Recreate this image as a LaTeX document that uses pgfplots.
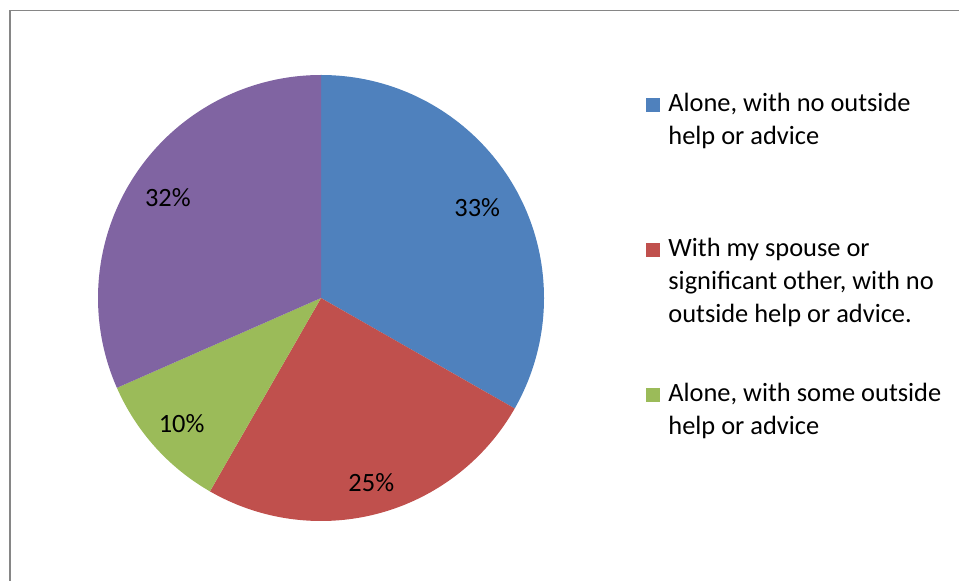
\documentclass[border=0pt]{standalone}
\usepackage{pgfplots}
\usepackage{pgfplotstable}
\pgfplotsset{compat=1.18}
\usepackage{fontspec}
\setmainfont{Carlito}

\definecolor{piecolor0}{RGB}{79,129,189}
\definecolor{piecolor1}{RGB}{192,80,77}
\definecolor{piecolor2}{RGB}{155,187,89}
\definecolor{piecolor3}{RGB}{128,100,162}
\definecolor{framegray}{RGB}{134,134,134}

\newcommand\chartfont{\fontsize{13.2bp}{16.5bp}\selectfont}

% share of answers, clockwise from 12 o'clock; lpos = label distance from centre
\pgfplotstableread{
idx value lpos
0 33.25 0.81
1 25.05 0.86
2 10.10 0.84
3 31.60 0.82
}\piedata

\begin{document}
\begin{tikzpicture}
\path[use as bounding box] (0,0) rectangle (479.5bp,290.5bp);

\begin{axis}[
	hide axis,
	clip=false,
	x=111.5bp, y=111.5bp,
	xmin=-1, xmax=1, ymin=-1, ymax=1,
	anchor=origin,
	at={(160.5bp,141.5bp)},
	]
\pgfmathsetmacro{\cum}{0}
\pgfplotsforeachungrouped \i in {0,...,3}{
	\pgfplotstablegetelem{\i}{value}\of\piedata
	\let\v\pgfplotsretval
	\pgfplotstablegetelem{\i}{lpos}\of\piedata
	\let\lp\pgfplotsretval
	\pgfmathsetmacro{\a}{90-3.6*\cum}
	\pgfmathsetmacro{\b}{90-3.6*(\cum+\v)}
	\pgfmathsetmacro{\m}{(\a+\b)/2}
	\pgfmathtruncatemacro{\p}{round(\v)}
	\edef\temp{%
		\noexpand\fill[piecolor\i] (axis cs:0,0) -- (axis cs:{cos(\a)},{sin(\a)})
			arc[start angle=\a, end angle=\b, radius=111.5bp] -- cycle;
		\noexpand\node[font=\noexpand\chartfont, black]
			at (axis cs:{\lp*cos(\m)},{\lp*sin(\m)}) {\p\noexpand\%};
	}
	\temp
	\pgfmathsetmacro{\cum}{\cum+\v}
}
\end{axis}

% frame and legend, in pixel units of the reference
\begin{scope}[x=0.5bp, y=-0.5bp, yshift=290.5bp]
\draw[framegray, line width=0.75bp] (10,581) -- (10,10.7) -- (959,10.7);
\newcommand\legline[2]{\node[anchor=base west, inner sep=0pt, font=\chartfont] at (668,#1) {#2};}
\fill[piecolor0] (646.5,98) rectangle (660.5,112);
\legline{112}{Alone, with no outside}
\legline{145}{help or advice}
\fill[piecolor1] (646.5,243) rectangle (660.5,257);
\legline{257}{With my spouse or}
\legline{290}{significant other, with no}
\legline{323}{outside help or advice.}
\fill[piecolor2] (646.5,388) rectangle (660.5,402);
\legline{402}{Alone, with some outside}
\legline{435}{help or advice}
\end{scope}
\end{tikzpicture}
\end{document}
